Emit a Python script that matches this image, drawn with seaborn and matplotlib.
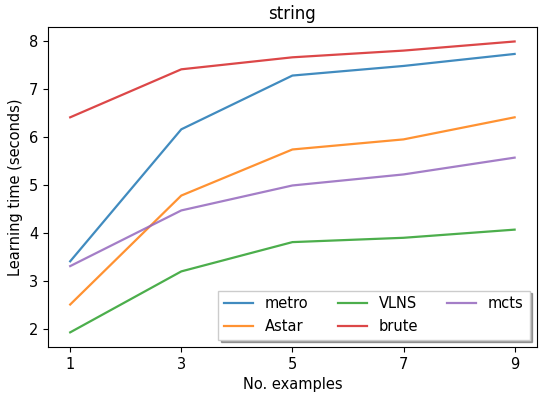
import matplotlib
matplotlib.use("Agg")
import matplotlib.pyplot as plt
import seaborn as sns
import pandas as pd

examples = [1, 3, 5, 7, 9]
metro = [3.40, 6.15, 7.27, 7.47, 7.72]
astar = [2.50, 4.77, 5.73, 5.94, 6.40]
vlns = [1.92, 3.19, 3.80, 3.89, 4.06]
brute = [6.40, 7.40, 7.65, 7.79, 7.98]
mcts = [3.30, 4.46, 4.98, 5.21, 5.56]
series_names = ["metro", "Astar", "VLNS", "brute", "mcts"]
series_values = [metro, astar, vlns, brute, mcts]

rows = []
for name, vals in zip(series_names, series_values):
    for x, v in zip(examples, vals):
        rows.append({"examples": x, "time": v, "method": name})
df = pd.DataFrame(rows)

plt.rcParams["font.family"] = ["DejaVu Sans"]
fig = plt.figure(figsize=(5.39, 3.96), dpi=100)
ax = fig.add_axes([0.089, 0.124, 0.907, 0.808])

palette = {"metro": "#1f77b4", "Astar": "#ff7f0e", "VLNS": "#2ca02c",
           "brute": "#d62728", "mcts": "#9467bd"}
sns.lineplot(data=df, x="examples", y="time", hue="method", hue_order=series_names,
             palette=palette, ax=ax, linewidth=1.6, alpha=0.85)

ax.set_xticks(examples)
ax.tick_params(labelsize=10.5)
ax.set_xlabel("No. examples", fontsize=10.5)
ax.set_ylabel("Learning time (seconds)", fontsize=10.5)
ax.set_title("string", fontsize=12)

handles, labels = ax.get_legend_handles_labels()
ax.legend(handles, labels, loc="lower right", ncol=3, shadow=True, fancybox=False,
          fontsize=10.5, framealpha=1)

fig.savefig("out.png", dpi=100)
